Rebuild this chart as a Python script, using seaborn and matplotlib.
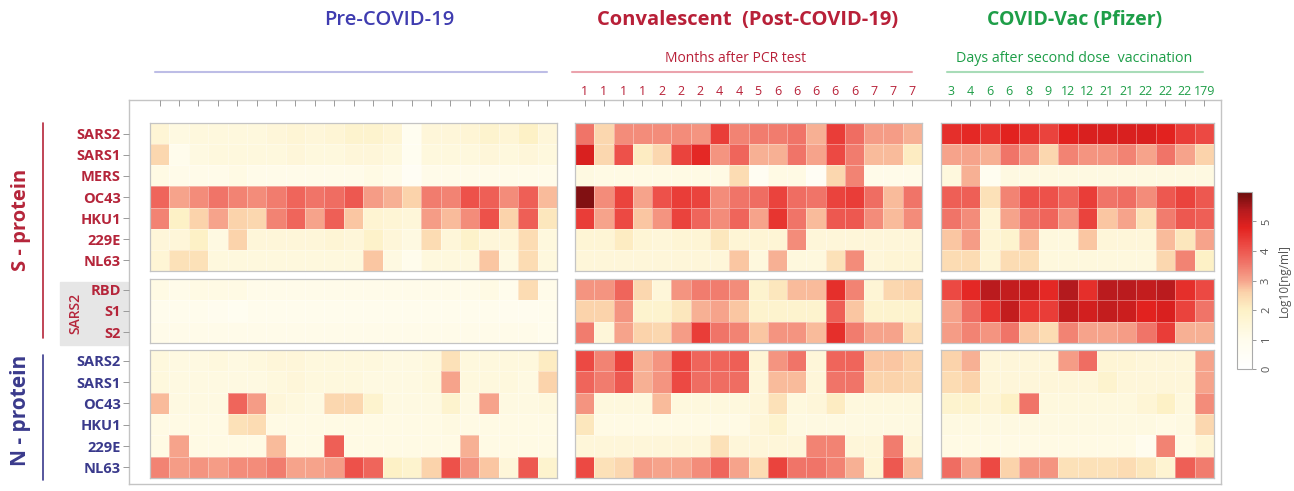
#  Antibody heatmap: pre-COVID, convalescent and vaccinated sera
#  against S- and N-proteins of several coronaviruses
#

import numpy as np
import pandas as pd
import matplotlib.pyplot as plt
import seaborn as sns
from matplotlib.colors import LinearSegmentedColormap
from matplotlib.lines import Line2D

sns.set_style("white")
plt.rcParams['font.family'] = ['Open Sans', 'DejaVu Sans']

#
#  Row and column labels
#

s_rows = ['SARS2', 'SARS1', 'MERS', 'OC43', 'HKU1', '229E', 'NL63']
sub_rows = ['RBD', 'S1', 'S2']
n_rows = ['SARS2', 'SARS1', 'OC43', 'HKU1', '229E', 'NL63']

n_pre = 21
months = [1, 1, 1, 1, 2, 2, 2, 4, 4, 5, 6, 6, 6, 6, 6, 7, 7, 7]
days = [3, 4, 6, 6, 8, 9, 12, 12, 21, 21, 22, 22, 22, 179]

#
#  log10 [ng/ml] values
#

pre_s = [
    [1.6, 1.3, 1.4, 1.4, 1.4, 1.4, 1.5, 1.6, 1.5, 1.6, 1.8, 1.8, 1.6, 0.8, 1.5, 1.5, 1.6, 1.8, 1.6, 2.0, 1.5],
    [2.5, 1.0, 1.3, 1.4, 1.4, 1.4, 1.4, 1.5, 1.4, 1.4, 1.5, 1.5, 1.4, 0.8, 1.4, 1.4, 1.4, 1.5, 1.4, 1.5, 1.4],
    [1.2, 1.1, 1.1, 1.1, 1.2, 1.1, 1.1, 1.1, 1.1, 1.1, 1.1, 1.2, 1.1, 0.6, 1.1, 1.1, 1.1, 1.1, 1.1, 1.1, 1.1],
    [3.8, 3.0, 3.3, 3.6, 3.4, 3.3, 3.5, 3.8, 3.6, 3.7, 4.0, 3.1, 2.9, 2.6, 3.5, 3.4, 4.1, 3.9, 3.3, 3.9, 2.8],
    [3.4, 2.0, 2.6, 3.0, 2.6, 2.5, 3.4, 3.8, 3.0, 3.9, 2.7, 1.7, 1.6, 1.5, 3.1, 2.8, 3.3, 4.1, 2.6, 3.9, 2.2],
    [1.5, 1.5, 2.0, 1.3, 2.6, 1.5, 1.5, 1.5, 1.5, 1.6, 1.5, 1.9, 1.5, 1.3, 2.4, 1.5, 1.9, 1.5, 1.5, 2.4, 1.4],
    [1.6, 2.3, 2.3, 1.4, 1.4, 1.4, 1.4, 1.4, 1.4, 1.4, 1.4, 2.7, 1.3, 1.0, 1.4, 1.4, 1.4, 2.7, 1.3, 2.4, 1.4],
]
pre_sub = [
    [1.2, 1.1, 1.2, 1.2, 1.2, 1.1, 1.1, 1.1, 1.1, 1.1, 1.1, 1.1, 1.1, 1.1, 1.1, 1.1, 1.1, 1.2, 1.0, 2.4, 1.1],
    [1.0, 1.0, 1.0, 0.9, 0.8, 1.0, 1.0, 1.0, 1.0, 1.0, 1.0, 1.0, 1.0, 1.0, 1.0, 1.0, 1.0, 1.0, 0.9, 0.9, 1.0],
    [1.1, 1.1, 1.1, 1.1, 1.1, 1.1, 1.1, 1.1, 1.1, 1.1, 1.1, 1.1, 1.1, 1.1, 1.1, 1.1, 1.1, 1.1, 1.1, 1.1, 1.0],
]
pre_n = [
    [1.4, 1.3, 1.3, 1.4, 1.3, 1.4, 1.5, 1.5, 1.4, 1.4, 1.4, 1.4, 1.3, 1.3, 1.4, 2.3, 1.4, 1.4, 1.4, 1.4, 2.1],
    [1.4, 1.3, 1.3, 1.3, 1.3, 1.3, 1.4, 1.5, 1.4, 1.4, 1.4, 1.3, 1.3, 1.3, 1.4, 3.0, 1.4, 1.4, 1.4, 1.3, 2.6],
    [2.8, 1.3, 1.3, 1.3, 3.8, 3.1, 1.5, 1.4, 1.3, 2.5, 2.5, 1.8, 1.3, 1.3, 1.3, 1.8, 1.3, 3.0, 1.3, 1.3, 1.4],
    [1.2, 1.2, 1.2, 1.2, 2.3, 2.4, 1.2, 1.2, 1.2, 1.2, 1.2, 1.2, 1.2, 1.2, 1.2, 1.3, 1.2, 1.2, 1.2, 1.2, 1.2],
    [1.2, 3.0, 1.2, 1.2, 1.2, 1.2, 2.8, 1.2, 1.2, 3.9, 1.2, 1.2, 1.2, 1.2, 1.2, 1.2, 2.9, 1.2, 1.2, 1.2, 1.2],
    [3.4, 3.1, 3.2, 3.1, 3.3, 3.3, 3.5, 3.0, 3.0, 3.1, 4.1, 3.8, 2.0, 1.8, 2.6, 4.1, 3.2, 2.7, 1.5, 4.0, 1.8],
]

conv_s = [
    [3.6, 2.5, 3.3, 3.3, 3.3, 3.3, 3.2, 4.4, 3.4, 3.5, 3.5, 3.6, 2.9, 4.4, 3.7, 3.1, 3.1, 2.9],
    [4.9, 2.5, 4.1, 2.1, 2.5, 4.3, 4.7, 3.2, 3.8, 2.9, 2.9, 3.6, 3.0, 4.2, 3.5, 2.8, 2.8, 2.1],
    [1.3, 1.2, 1.2, 1.2, 1.2, 1.2, 1.2, 1.2, 2.4, 0.7, 1.2, 1.2, 0.6, 2.5, 3.4, 1.1, 1.1, 1.1],
    [5.8, 3.3, 4.3, 3.0, 4.1, 4.4, 4.3, 3.3, 3.6, 3.7, 4.3, 3.7, 3.6, 4.3, 4.4, 3.7, 2.8, 3.6],
    [4.4, 3.0, 4.2, 2.7, 3.2, 4.3, 3.8, 3.3, 3.8, 3.0, 4.5, 3.6, 2.8, 4.0, 4.0, 3.3, 2.8, 3.3],
    [1.6, 1.6, 2.1, 1.6, 1.5, 1.6, 1.6, 2.2, 1.6, 1.6, 1.6, 3.3, 1.5, 1.5, 1.5, 1.5, 1.5, 1.5],
    [1.5, 1.5, 1.5, 1.5, 1.5, 1.5, 1.5, 1.5, 2.7, 1.4, 2.9, 1.4, 1.4, 2.3, 3.3, 1.5, 1.6, 1.6],
]
conv_sub = [
    [3.2, 3.2, 3.8, 2.5, 1.5, 3.2, 3.5, 3.5, 3.3, 1.8, 2.2, 2.8, 2.8, 4.6, 3.4, 1.6, 2.5, 2.6],
    [2.6, 2.6, 3.2, 1.8, 1.8, 2.2, 2.9, 3.0, 2.7, 1.8, 1.8, 1.8, 1.8, 3.9, 2.7, 1.8, 1.8, 1.8],
    [3.5, 1.5, 3.0, 2.6, 2.5, 3.1, 4.4, 3.6, 3.4, 2.7, 3.2, 3.2, 2.8, 4.6, 3.5, 3.0, 3.0, 2.4],
]
conv_n = [
    [4.2, 3.4, 4.3, 2.9, 3.2, 4.3, 3.8, 3.8, 3.9, 1.6, 3.2, 3.6, 1.5, 3.8, 3.8, 2.7, 2.7, 2.6],
    [3.8, 3.5, 4.0, 2.9, 3.2, 4.2, 3.7, 3.7, 3.7, 1.5, 2.8, 2.8, 1.5, 3.6, 3.6, 2.6, 2.6, 2.5],
    [3.2, 1.4, 1.4, 1.4, 2.8, 1.4, 1.4, 1.4, 1.4, 1.5, 2.3, 1.4, 1.5, 2.1, 1.4, 1.4, 1.4, 1.4],
    [2.2, 1.2, 1.2, 1.2, 1.2, 1.2, 1.2, 1.2, 1.2, 1.5, 1.8, 1.3, 1.3, 1.3, 1.3, 1.3, 1.3, 1.3],
    [1.5, 1.5, 1.5, 1.5, 1.5, 1.5, 1.5, 2.3, 1.5, 1.5, 1.5, 1.5, 3.4, 3.4, 1.5, 1.5, 3.5, 1.5],
    [4.2, 2.3, 2.5, 3.1, 3.0, 3.0, 3.3, 3.8, 3.0, 2.4, 4.3, 3.6, 3.6, 3.4, 2.9, 1.6, 4.0, 2.8],
]

vac_s = [
    [4.6, 4.7, 4.5, 4.8, 4.6, 4.3, 4.8, 4.9, 4.9, 4.9, 4.9, 4.8, 4.4, 4.2],
    [3.0, 3.0, 2.9, 3.6, 3.2, 2.5, 3.4, 3.2, 3.2, 3.4, 3.0, 3.6, 3.0, 2.6],
    [1.4, 2.9, 0.8, 1.3, 1.3, 1.3, 1.3, 1.3, 1.3, 1.3, 1.3, 1.3, 1.3, 1.3],
    [3.9, 3.9, 2.3, 3.4, 4.1, 4.1, 3.8, 4.4, 3.6, 3.7, 3.3, 4.0, 4.3, 4.0],
    [3.6, 3.3, 1.6, 3.0, 3.6, 3.8, 3.2, 4.3, 2.7, 3.0, 2.3, 3.5, 4.0, 3.9],
    [2.7, 3.1, 1.6, 1.8, 2.8, 1.4, 1.4, 2.7, 1.5, 1.5, 1.5, 2.8, 2.2, 3.0],
    [2.4, 2.4, 1.6, 2.4, 2.4, 1.4, 1.4, 1.4, 1.4, 1.4, 1.4, 2.5, 3.4, 2.0],
]
vac_sub = [
    [4.2, 4.7, 5.3, 5.2, 5.1, 4.7, 5.4, 4.6, 5.3, 5.3, 5.2, 5.3, 4.6, 4.2],
    [3.0, 3.7, 4.5, 5.2, 4.5, 4.4, 5.2, 5.0, 5.2, 5.1, 4.8, 4.9, 4.3, 3.6],
    [3.1, 3.4, 3.2, 3.6, 2.7, 2.4, 3.4, 3.0, 3.0, 3.1, 3.6, 4.4, 2.9, 2.9],
]
vac_n = [
    [2.6, 2.9, 1.5, 1.5, 1.5, 1.5, 3.1, 3.7, 1.6, 1.6, 1.5, 1.5, 1.5, 3.0],
    [2.4, 2.6, 1.5, 1.5, 1.5, 1.5, 1.5, 1.5, 1.8, 1.5, 1.5, 1.5, 1.5, 3.0],
    [1.8, 1.8, 1.6, 2.0, 3.6, 1.4, 1.4, 1.4, 1.4, 1.4, 1.6, 2.0, 1.4, 3.3],
    [1.3, 1.3, 1.3, 1.3, 1.3, 1.3, 1.3, 1.3, 1.3, 1.3, 1.3, 1.2, 1.3, 2.5],
    [1.2, 1.2, 1.2, 1.2, 1.2, 1.2, 1.2, 1.2, 1.2, 1.2, 0.9, 3.4, 1.2, 1.6],
    [3.7, 3.0, 4.2, 2.6, 3.2, 3.2, 2.3, 2.3, 2.3, 2.4, 2.2, 1.7, 3.9, 3.5],
]

#
#  Colours
#

RED = '#b5253a'
NAVY = '#3a3a8c'
PRE_C = '#3f3cb0'
CONV_C = '#b82038'
VAC_C = '#1e9e48'
GRID = '#c4c4c4'

VMAX = 6.0
anchors = [(0.0, '#ffffff'), (1.0, '#fffcec'), (2.0, '#fdf1c6'), (2.6, '#fbd2aa'),
           (3.0, '#f6a48c'), (3.6, '#f07468'), (4.2, '#ec4a44'), (4.8, '#e2221f'),
           (5.4, '#b41a1e'), (6.0, '#6a0c0c')]
cmap = LinearSegmentedColormap.from_list('abx', [(v / VMAX, c) for v, c in anchors])

#
#  Figure and pixel helpers
#

W, H = 1294, 491
fig = plt.figure(figsize=(W / 100, H / 100), dpi=100)


def box(x0, y0, x1, y1):
    return fig.add_axes([x0 / W, 1 - y1 / H, (x1 - x0) / W, (y1 - y0) / H])


def ftext(x, y, s, **kw):
    fig.text(x / W, 1 - y / H, s, **kw)


def fline(x0, y0, x1, y1, **kw):
    fig.add_artist(Line2D([x0 / W, x1 / W], [1 - y0 / H, 1 - y1 / H],
                          transform=fig.transFigure, **kw))


# outer grey frame
FX0, FY0, FX1, FY1 = 129, 100, 1221, 484
frame = box(FX0, FY0, FX1, FY1)
frame.set_xticks([])
frame.set_yticks([])
for sp in frame.spines.values():
    sp.set_color(GRID)
    sp.set_linewidth(1.0)
frame.patch.set_alpha(0)

col_px = [(150, 557), (575, 922), (941, 1214)]
row_px = [(123, 271), (279, 343), (350, 478)]

blocks = [[pre_s, pre_sub, pre_n],
          [conv_s, conv_sub, conv_n],
          [vac_s, vac_sub, vac_n]]
row_names = [s_rows, sub_rows, n_rows]
row_colors = [RED, RED, NAVY]
top_labels = [[''] * n_pre, [str(m) for m in months], [str(d) for d in days]]
top_colors = ['#999999', CONV_C, VAC_C]

cax = box(1237, 192, 1252, 369)
first_ax = None

for ci, (x0, x1) in enumerate(col_px):
    for ri, (y0, y1) in enumerate(row_px):
        ax = box(x0, y0, x1, y1)
        data = pd.DataFrame(blocks[ci][ri], index=row_names[ri])
        first = first_ax is None
        sns.heatmap(data, ax=ax, cmap=cmap, vmin=0, vmax=VMAX,
                    linewidths=0.5, linecolor=(1, 1, 1, 0.35),
                    xticklabels=False, yticklabels=False,
                    cbar=first, cbar_ax=cax if first else None,
                    cbar_kws={'ticks': [0, 1, 2, 3, 4, 5]} if first else None)
        if first:
            first_ax = ax
        for sp in ax.spines.values():
            sp.set_visible(True)
            sp.set_color(GRID)
            sp.set_linewidth(0.9)
        ncol = data.shape[1]
        nrow = data.shape[0]

        # column ticks on the outer frame
        if ri == 0:
            loc = 1 + (y0 - FY0) / (y1 - y0)
            sec = ax.secondary_xaxis(loc)
            sec.set_xticks(np.arange(ncol) + 0.5, labels=top_labels[ci])
            sec.tick_params(direction='in', length=4, width=0.7, color='#9a9a9a',
                            pad=1.5, labelsize=9, labelcolor=top_colors[ci])
            for sp in sec.spines.values():
                sp.set_visible(False)

        # row labels on the outer frame
        if ci == 0:
            loc = -(x0 - FX0) / (x1 - x0)
            sec = ax.secondary_yaxis(loc)
            sec.set_yticks(np.arange(nrow) + 0.5, labels=row_names[ri])
            sec.tick_params(direction='out', length=4, width=0.7, color='#9a9a9a',
                            pad=2, labelsize=10.5, labelcolor=row_colors[ri])
            for lab in sec.get_yticklabels():
                lab.set_fontweight('bold')
            for sp in sec.spines.values():
                sp.set_visible(False)

#
#  Colour bar
#

cbar = first_ax.collections[0].colorbar
cax.tick_params(labelsize=8, labelcolor='#555555', length=3, width=0.6,
                color='#888888', labelrotation=90)
for lab in cax.get_yticklabels():
    lab.set_va('center')
cax.set_ylabel('Log10[ng/ml]', fontsize=8.5, color='#555555', labelpad=4)
cbar.outline.set_edgecolor('#aaaaaa')
cbar.outline.set_linewidth(0.8)

#
#  Column group headings
#

ftext(389, 20, 'Pre-COVID-19', color=PRE_C, fontsize=14.5, fontweight='semibold',
      ha='center', va='center')
fline(155, 72, 547, 72, color='#bdbde6', lw=1.5)

ftext(748, 20, 'Convalescent  (Post-COVID-19)', color=CONV_C, fontsize=14.5,
      fontweight='bold', ha='center', va='center')
ftext(736, 59, 'Months after PCR test', color=CONV_C, fontsize=10,
      ha='center', va='center')
fline(572, 72, 912, 72, color='#eba3ad', lw=1.5)

ftext(1075, 20, 'COVID-Vac (Pfizer)', color=VAC_C, fontsize=14,
      fontweight='bold', ha='center', va='center')
ftext(1074, 59, 'Days after second dose  vaccination', color=VAC_C, fontsize=10.3,
      ha='center', va='center')
fline(947, 72, 1203, 72, color='#a8dcb8', lw=1.5)

#
#  Row group headings
#

fig.patches.append(plt.Rectangle((60 / W, 1 - 345 / H), 68 / W, 63 / H,
                                 transform=fig.transFigure, color='#e6e6e6',
                                 zorder=-1))
ftext(75, 313, 'SARS2', color=RED, fontsize=10, fontweight='semibold',
      rotation=90, ha='center', va='center')

ftext(21, 220, 'S - protein', color=RED, fontsize=14.5, fontweight='bold',
      rotation=90, ha='center', va='center')
fline(43, 123, 43, 338, color=RED, lw=1.2)

ftext(21, 410, 'N - protein', color=NAVY, fontsize=15, fontweight='bold',
      rotation=90, ha='center', va='center')
fline(43, 355, 43, 480, color=NAVY, lw=1.2)

fig.savefig('out.png', dpi=100)
